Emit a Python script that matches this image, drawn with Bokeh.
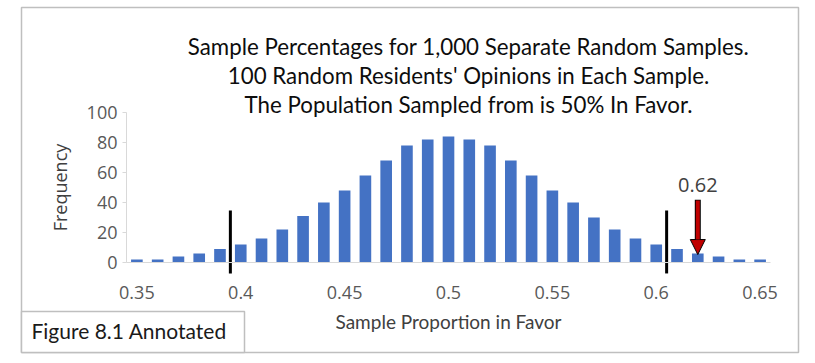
from bokeh.plotting import figure
from bokeh.models import (Range1d, FixedTicker, Label, BoxAnnotation,
                          Arrow, NormalHead, ColumnDataSource)
from bokeh.embed import file_html
from bokeh.resources import INLINE

# ---------------- data ----------------
proportions = [0.35, 0.36, 0.37, 0.38, 0.39, 0.40, 0.41, 0.42, 0.43, 0.44,
               0.45, 0.46, 0.47, 0.48, 0.49, 0.50, 0.51, 0.52, 0.53, 0.54,
               0.55, 0.56, 0.57, 0.58, 0.59, 0.60, 0.61, 0.62, 0.63, 0.64, 0.65]
frequencies = [2, 2, 4, 6, 9, 12, 16, 22, 31, 40,
               48, 58, 68, 78, 82, 84, 82, 78, 68, 58,
               48, 40, 30, 22, 16, 12, 9, 6, 4, 2, 2]
x_ticks = [0.35, 0.40, 0.45, 0.50, 0.55, 0.60, 0.65]
x_tick_labels = ["0.35", "0.4", "0.45", "0.5", "0.55", "0.6", "0.65"]
y_ticks = [0, 20, 40, 60, 80, 100]
cutoffs = [0.395, 0.605]
cutoff_low, cutoff_high = -7.3, 34.7
observed = 0.62
observed_label = "0.62"
arrow_top, arrow_tip = 41.3, 5.3
title_lines = ["Sample Percentages for 1,000 Separate Random Samples.",
               "100 Random Residents' Opinions in Each Sample.",
               "The Population Sampled from is 50% In Favor."]

# ---------------- layout helpers (canvas pixel -> data) ----------------
W, H = 812, 360
AX_L, AX_R = 126, 770        # category axis extent, canvas px
X0, X1 = 0.345, 0.655
Y_BASE, PX_PER_UNIT = 262, 1.5


def px_x(px):
    return X0 + (px - AX_L) * (X1 - X0) / (AX_R - AX_L)


def px_y(py):
    return (Y_BASE - py) / PX_PER_UNIT


p = figure(width=W, height=H, output_backend="svg", toolbar_location=None,
           x_range=Range1d(px_x(0), px_x(W)), y_range=Range1d(px_y(H), px_y(0)),
           min_border_left=0, min_border_right=0, min_border_top=0, min_border_bottom=0)
p.title.visible = False
p.outline_line_color = None
p.xgrid.visible = False
p.ygrid.visible = False
p.background_fill_color = "white"
p.border_fill_color = "white"

AX_COLOR = "#D9D9D9"
TICK_COLOR = "#595959"

# y axis (drawn at the left end of the category axis)
yax = p.yaxis[0]
yax.fixed_location = X0
yax.ticker = FixedTicker(ticks=y_ticks)
yax.bounds = (0, 100)
yax.axis_line_color = AX_COLOR
yax.major_tick_line_color = AX_COLOR
yax.major_tick_out = 4
yax.major_tick_in = 0
yax.minor_tick_line_color = None
yax.major_label_standoff = 5
yax.major_label_text_font = "Open Sans"
yax.major_label_text_font_size = "18px"
yax.major_label_text_color = TICK_COLOR
yax.axis_label = "Frequency"
yax.axis_label_text_font = "Open Sans"
yax.axis_label_text_font_size = "18px"
yax.axis_label_text_font_style = "normal"
yax.axis_label_text_color = "#404040"
yax.axis_label_standoff = 12

# x axis (drawn at frequency 0)
xax = p.xaxis[0]
xax.fixed_location = 0
xax.bounds = (X0, X1)
xax.ticker = FixedTicker(ticks=x_ticks)
xax.major_label_overrides = {t: l for t, l in zip(x_ticks, x_tick_labels)}
xax.axis_line_color = AX_COLOR
xax.major_tick_line_color = None
xax.minor_tick_line_color = None
xax.major_tick_out = 0
xax.major_tick_in = 0
xax.major_label_standoff = 23
xax.major_label_text_font = "Open Sans"
xax.major_label_text_font_size = "18px"
xax.major_label_text_color = TICK_COLOR
xax.axis_label = "Sample Proportion in Favor"
xax.axis_label_text_font = "Lato"
xax.axis_label_text_font_size = "19px"
xax.axis_label_text_font_style = "normal"
xax.axis_label_text_color = "#404040"
xax.axis_label_standoff = 8

# outer border and figure tag box
p.add_layout(BoxAnnotation(left=px_x(21), right=px_x(798), top=px_y(7), bottom=px_y(352),
                           fill_color=None, line_color="#BFBFBF", line_alpha=1, line_width=1.5))
p.add_layout(BoxAnnotation(left=px_x(21), right=px_x(244), top=px_y(311), bottom=px_y(352),
                           fill_color="white", fill_alpha=1, line_color="#BFBFBF",
                           line_alpha=1, line_width=1.5))
p.add_layout(Label(x=px_x(31), y=px_y(330), text="Figure 8.1 Annotated",
                   text_font="Lato", text_font_size="21px", text_color="#1a1a1a",
                   text_align="left", text_baseline="alphabetic"))

# bars
src = ColumnDataSource(dict(x=proportions, top=frequencies))
p.vbar(x="x", top="top", width=0.0056, source=src, fill_color="#4472C4", line_color=None)

# cutoff lines
p.segment(x0=cutoffs, y0=[cutoff_low] * len(cutoffs), x1=cutoffs, y1=[cutoff_high] * len(cutoffs),
          line_color="black", line_width=3)

# observed arrow
p.add_layout(Arrow(x_start=observed, y_start=arrow_top + 0.6, x_end=observed, y_end=arrow_tip + 8,
                   line_color="black", line_width=6, end=None))
p.add_layout(Arrow(x_start=observed, y_start=arrow_top, x_end=observed, y_end=arrow_tip,
                   line_color="#C00000", line_width=4,
                   end=NormalHead(size=15, fill_color="#C00000", line_color="black", line_width=1)))
p.add_layout(Label(x=observed, y=px_y(184), text=observed_label, text_font="Open Sans",
                   text_font_size="20px", text_color="#404040",
                   text_align="center", text_baseline="alphabetic"))

# title lines
for line, py in zip(title_lines, [46, 75, 104]):
    p.add_layout(Label(x=px_x(468), y=px_y(py), text=line, text_font="Lato",
                       text_font_size="22.3px", text_color="#0d0d0d",
                       text_align="center", text_baseline="alphabetic"))

open("out.html", "w").write(file_html(p, INLINE))
